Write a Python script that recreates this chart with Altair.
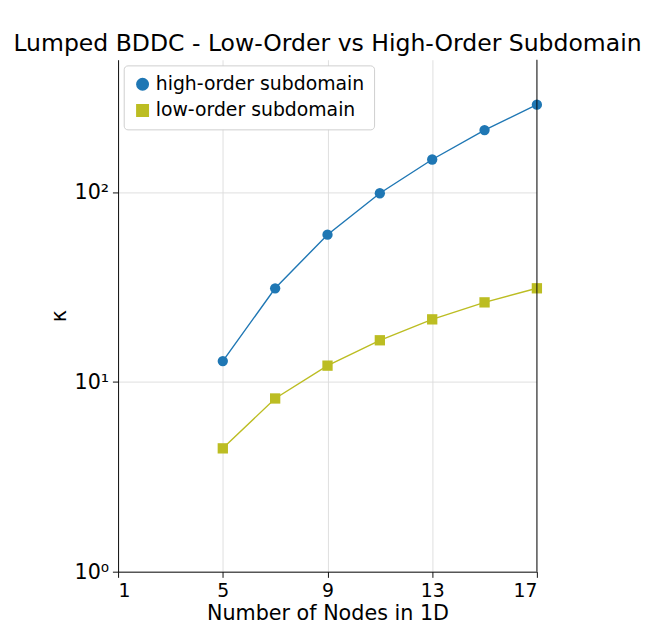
import altair as alt
import pandas as pd

nodes = [5, 7, 9, 11, 13, 15, 17]
high_order = [12.9, 31.2, 59.8, 98.9, 149, 213, 290]
low_order = [4.47, 8.19, 12.2, 16.6, 21.4, 26.3, 31.2]
series_names = ["high-order subdomain", "low-order subdomain"]
colors = ["#1f77b4", "#bcbd22"]

frame = pd.concat([
    pd.DataFrame({"n": nodes, "kappa": high_order, "series": series_names[0]}),
    pd.DataFrame({"n": nodes, "kappa": low_order, "series": series_names[1]}),
])

x = alt.X("n:Q", title="Number of Nodes in 1D",
          scale=alt.Scale(domain=[1, 17], nice=False),
          axis=alt.Axis(values=[1, 5, 9, 13, 17], format="d"))
y = alt.Y("kappa:Q", title="κ",
          scale=alt.Scale(type="log", domain=[1, 500], nice=False),
          axis=alt.Axis(values=[1, 10, 100],
                        labelExpr="datum.value == 1 ? '10⁰' : datum.value == 10 ? '10¹' : '10²'"))
color = alt.Color("series:N", scale=alt.Scale(domain=series_names, range=colors), title=None)
shape = alt.Shape("series:N", scale=alt.Scale(domain=series_names, range=["circle", "square"]), title=None)

lines = alt.Chart(frame).mark_line(strokeWidth=1.5, clip=False).encode(
    x=x, y=y, color=color, detail="series:N")
points = alt.Chart(frame).mark_point(filled=True, size=120, opacity=1, clip=False).encode(
    x="n:Q", y="kappa:Q", color=color, shape=shape)
right_spine = alt.Chart(pd.DataFrame({"n": [17]})).mark_rule(color="black", strokeWidth=1).encode(x="n:Q")

chart = alt.layer(lines, points, right_spine).properties(
    width=445, height=544,
    title=alt.Title("Lumped BDDC - Low-Order vs High-Order Subdomain", fontSize=25,
                    fontWeight="normal", font="DejaVu Sans", color="black", offset=4),
).configure_view(stroke=None).configure_axis(
    labelFont="DejaVu Sans", titleFont="DejaVu Sans", labelFontSize=20, titleFontSize=22,
    titleFontWeight="normal", labelColor="black", titleColor="black",
    domainColor="black", tickColor="black", gridColor="#dddddd", tickSize=6, labelPadding=4,
).configure_axisY(labelFontSize=22).configure_legend(
    orient="top-left", labelFont="DejaVu Sans", labelFontSize=20, labelColor="black",
    fillColor="white", strokeColor="#cccccc", cornerRadius=4, padding=10, symbolSize=150,
    offset=6, labelLimit=400, rowPadding=8,
)

chart.save("out.html", embed_options={"renderer": "svg", "actions": False})
